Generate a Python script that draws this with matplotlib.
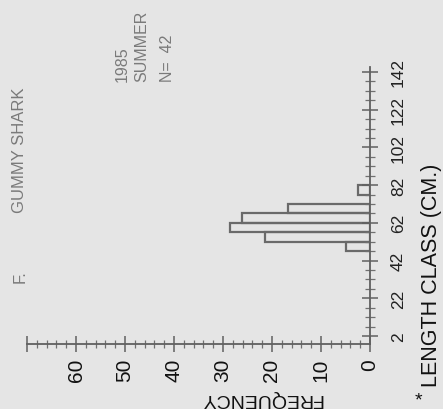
import matplotlib
matplotlib.use("Agg")
import matplotlib.pyplot as plt
from matplotlib.ticker import MultipleLocator, FixedLocator

# length classes (lower edge, cm) and frequency (%), N = 42
length_class = [47, 52, 57, 62, 67, 77]
frequency = [4.8, 21.4, 28.6, 26.2, 16.7, 2.4]
bin_width = 5

length_ticks = [2, 22, 42, 62, 82, 102, 122, 142]
freq_ticks = [0, 10, 20, 30, 40, 50, 60]

bg = '#e5e5e5'
plt.rcParams['font.family'] = ['Liberation Sans', 'DejaVu Sans']

W, H = 443, 410
fig = plt.figure(figsize=(W / 100, H / 100), dpi=100)
fig.patch.set_facecolor(bg)

# chart is drawn turned 90 degrees: frequency runs right-to-left along the bottom
ax = fig.add_axes([27 / W, 65 / H, 343 / W, 277 / H])
ax.set_facecolor(bg)
ax.barh(length_class, frequency, height=bin_width, align='edge', left=0,
        facecolor='none', edgecolor='#6a6a6a', linewidth=1.6)

ax.set_xlim(70, 0)
ax.set_ylim(-2.2, 144.6)

for s in ['top', 'left']:
    ax.spines[s].set_visible(False)
for s in ['right', 'bottom']:
    ax.spines[s].set_color('#606060')
    ax.spines[s].set_linewidth(1.3)

ax.yaxis.tick_right()
ax.xaxis.set_major_locator(FixedLocator(freq_ticks + [70]))
ax.xaxis.set_minor_locator(MultipleLocator(2))
ax.yaxis.set_major_locator(FixedLocator(length_ticks))
ax.yaxis.set_minor_locator(FixedLocator(list(range(-3, 148, 5))))
ax.set_xticklabels([str(v) for v in freq_ticks] + [''])
ax.set_yticklabels([str(v) for v in length_ticks])

ax.tick_params(axis='x', which='major', direction='inout', length=12, width=1.1,
               color='#606060', labelrotation=90, labelsize=15, pad=4, labelcolor='#111111')
ax.tick_params(axis='x', which='minor', direction='inout', length=6, width=0.9, color='#707070')
ax.tick_params(axis='y', which='major', direction='inout', length=12, width=1.1,
               color='#606060', labelrotation=90, labelsize=12.5, pad=9, labelcolor='#222222')
ax.tick_params(axis='y', which='minor', direction='inout', length=7, width=0.9, color='#707070')
for lab in ax.get_yticklabels():
    lab.set_verticalalignment('center')

def put(x, y, s, **kw):
    fig.text(x / W, 1 - y / H, s, **kw)

put(20, 213, 'GUMMY SHARK', rotation=90, ha='center', va='bottom', fontsize=12, color='#7a7a7a')
put(20, 277, 'F.', rotation=90, ha='center', va='center', fontsize=12, color='#7a7a7a')
put(122, 82, '1985', rotation=90, ha='center', va='bottom', fontsize=11.5, color='#7a7a7a')
put(142, 82, 'SUMMER', rotation=90, ha='center', va='bottom', fontsize=11.5, color='#7a7a7a')
put(167, 82, 'N=  42', rotation=90, ha='center', va='bottom', fontsize=11.5, color='#7a7a7a')
put(432, 387, 'LENGTH CLASS (CM.)', rotation=90, ha='center', va='bottom', fontsize=15.5, color='#111111')
put(261, 399, 'FREQUENCY', rotation=180, ha='center', va='center', fontsize=14, color='#111111')
put(418, 401, '*', ha='center', va='center', fontsize=14, color='#111111')

fig.savefig('out.png', dpi=100, facecolor=bg)
